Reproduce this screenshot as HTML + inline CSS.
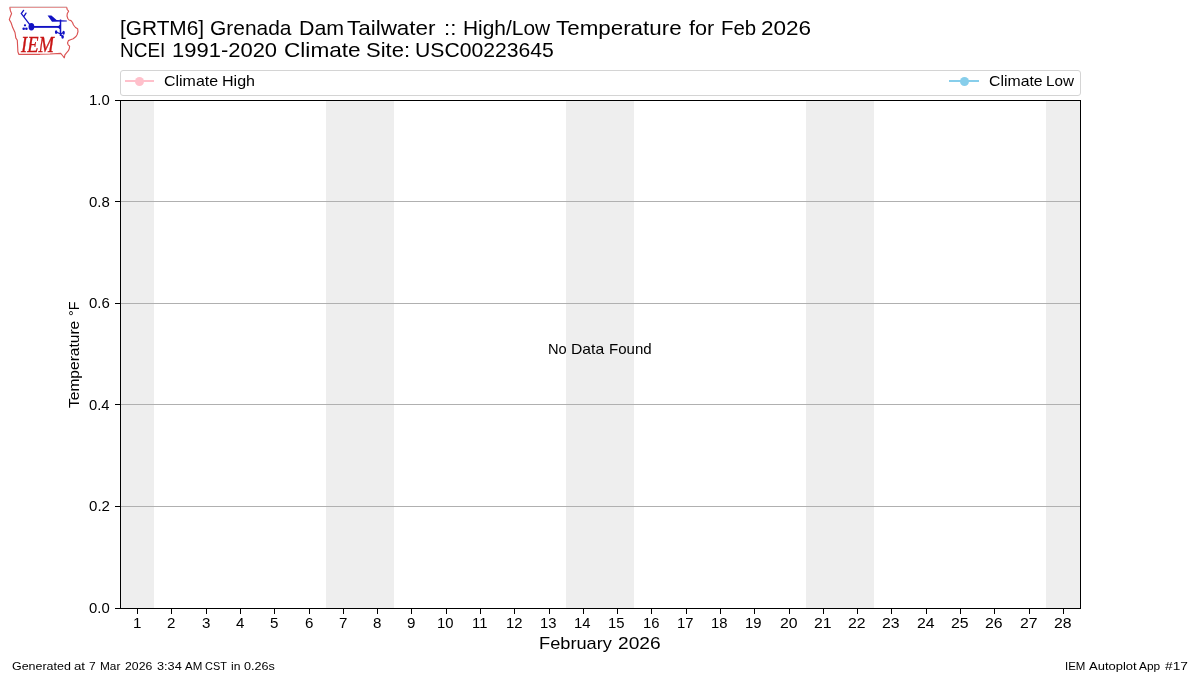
<!DOCTYPE html>
<html lang="en"><head><meta charset="utf-8"><title>IEM Autoplot App #17</title>
<style>
html,body{margin:0;padding:0;background:#fff;}
body{width:1200px;height:675px;position:relative;overflow:hidden;font-family:"Liberation Sans",sans-serif;color:#000;}
#fig{position:absolute;left:0;top:0;width:1200px;height:675px;will-change:transform;}
.a{position:absolute;}
.t{position:absolute;white-space:nowrap;line-height:1;color:#000;transform-origin:0 0;}
.band{position:absolute;top:101px;height:507px;background:#eeeeee;}
.grid{position:absolute;left:121px;width:959px;height:1px;background:#b0b0b0;}
.sp{position:absolute;background:#000;}
.xt{position:absolute;top:609px;width:1px;height:4.8px;background:#000;}
.yt{position:absolute;left:115.2px;width:4.8px;height:1px;background:#000;}
#legend{left:120px;top:70px;width:959px;height:24px;border:1px solid #d4d4d4;border-radius:3px;background:#fff;}
.lline{top:80px;height:2px;}
.ldot{top:76.65px;width:9.6px;height:9.6px;border-radius:50%;}
</style></head><body>
<div id="fig">
<div class="band" style="left:120.00px;width:34.29px"></div>
<div class="band" style="left:325.71px;width:68.57px"></div>
<div class="band" style="left:565.71px;width:68.57px"></div>
<div class="band" style="left:805.71px;width:68.57px"></div>
<div class="band" style="left:1045.71px;width:34.29px"></div>
<div class="grid" style="top:201px"></div>
<div class="grid" style="top:303px"></div>
<div class="grid" style="top:404px"></div>
<div class="grid" style="top:506px"></div>
<div class="sp" style="left:120px;top:100px;width:1px;height:509px"></div>
<div class="sp" style="left:1080px;top:100px;width:1px;height:509px"></div>
<div class="sp" style="left:120px;top:100px;width:961px;height:1px"></div>
<div class="sp" style="left:120px;top:608px;width:961px;height:1px"></div>
<div class="yt" style="top:100px"></div>
<span class="t" style="left:89.14px;top:93px;font-size:14.4px;transform:scaleX(1.0340);">1.0</span>
<div class="yt" style="top:201px"></div>
<span class="t" style="left:89.15px;top:195px;font-size:14.4px;transform:scaleX(1.0400);">0.8</span>
<div class="yt" style="top:303px"></div>
<span class="t" style="left:89.15px;top:296px;font-size:14.4px;transform:scaleX(1.0400);">0.6</span>
<div class="yt" style="top:404px"></div>
<span class="t" style="left:89.16px;top:398px;font-size:14.4px;transform:scaleX(1.0263);">0.4</span>
<div class="yt" style="top:506px"></div>
<span class="t" style="left:89.15px;top:499px;font-size:14.4px;transform:scaleX(1.0470);">0.2</span>
<div class="yt" style="top:608px"></div>
<span class="t" style="left:89.15px;top:601px;font-size:14.4px;transform:scaleX(1.0331);">0.0</span>
<div class="xt" style="left:137px"></div>
<span class="t" style="left:132.95px;top:616px;font-size:14.4px;transform:scaleX(1.0500);">1</span>
<div class="xt" style="left:171px"></div>
<span class="t" style="left:167.43px;top:616px;font-size:14.4px;transform:scaleX(1.0500);">2</span>
<div class="xt" style="left:206px"></div>
<span class="t" style="left:201.71px;top:616px;font-size:14.4px;transform:scaleX(1.0500);">3</span>
<div class="xt" style="left:240px"></div>
<span class="t" style="left:236.00px;top:616px;font-size:14.4px;transform:scaleX(1.0500);">4</span>
<div class="xt" style="left:274px"></div>
<span class="t" style="left:270.29px;top:616px;font-size:14.4px;transform:scaleX(1.0500);">5</span>
<div class="xt" style="left:309px"></div>
<span class="t" style="left:304.51px;top:616px;font-size:14.4px;transform:scaleX(1.0500);">6</span>
<div class="xt" style="left:343px"></div>
<span class="t" style="left:338.86px;top:616px;font-size:14.4px;transform:scaleX(1.0500);">7</span>
<div class="xt" style="left:377px"></div>
<span class="t" style="left:373.14px;top:616px;font-size:14.4px;transform:scaleX(1.0500);">8</span>
<div class="xt" style="left:411px"></div>
<span class="t" style="left:407.43px;top:616px;font-size:14.4px;transform:scaleX(1.0500);">9</span>
<div class="xt" style="left:446px"></div>
<span class="t" style="left:436.85px;top:616px;font-size:14.4px;transform:scaleX(1.0300);">10</span>
<div class="xt" style="left:480px"></div>
<span class="t" style="left:471.78px;top:616px;font-size:14.4px;transform:scaleX(1.0300);">11</span>
<div class="xt" style="left:514px"></div>
<span class="t" style="left:505.55px;top:616px;font-size:14.4px;transform:scaleX(1.0300);">12</span>
<div class="xt" style="left:549px"></div>
<span class="t" style="left:539.77px;top:616px;font-size:14.4px;transform:scaleX(1.0300);">13</span>
<div class="xt" style="left:583px"></div>
<span class="t" style="left:573.93px;top:616px;font-size:14.4px;transform:scaleX(1.0300);">14</span>
<div class="xt" style="left:617px"></div>
<span class="t" style="left:608.35px;top:616px;font-size:14.4px;transform:scaleX(1.0300);">15</span>
<div class="xt" style="left:651px"></div>
<span class="t" style="left:642.63px;top:616px;font-size:14.4px;transform:scaleX(1.0300);">16</span>
<div class="xt" style="left:686px"></div>
<span class="t" style="left:676.98px;top:616px;font-size:14.4px;transform:scaleX(1.0300);">17</span>
<div class="xt" style="left:720px"></div>
<span class="t" style="left:711.20px;top:616px;font-size:14.4px;transform:scaleX(1.0300);">18</span>
<div class="xt" style="left:754px"></div>
<span class="t" style="left:745.49px;top:616px;font-size:14.4px;transform:scaleX(1.0300);">19</span>
<div class="xt" style="left:789px"></div>
<span class="t" style="left:779.53px;top:616px;font-size:14.4px;transform:scaleX(1.1000);">20</span>
<div class="xt" style="left:823px"></div>
<span class="t" style="left:813.96px;top:616px;font-size:14.4px;transform:scaleX(1.1000);">21</span>
<div class="xt" style="left:857px"></div>
<span class="t" style="left:848.24px;top:616px;font-size:14.4px;transform:scaleX(1.1000);">22</span>
<div class="xt" style="left:891px"></div>
<span class="t" style="left:882.46px;top:616px;font-size:14.4px;transform:scaleX(1.1000);">23</span>
<div class="xt" style="left:926px"></div>
<span class="t" style="left:916.61px;top:616px;font-size:14.4px;transform:scaleX(1.1000);">24</span>
<div class="xt" style="left:960px"></div>
<span class="t" style="left:951.03px;top:616px;font-size:14.4px;transform:scaleX(1.1000);">25</span>
<div class="xt" style="left:994px"></div>
<span class="t" style="left:985.32px;top:616px;font-size:14.4px;transform:scaleX(1.1000);">26</span>
<div class="xt" style="left:1029px"></div>
<span class="t" style="left:1019.67px;top:616px;font-size:14.4px;transform:scaleX(1.1000);">27</span>
<div class="xt" style="left:1063px"></div>
<span class="t" style="left:1053.89px;top:616px;font-size:14.4px;transform:scaleX(1.1000);">28</span>
<div id="t1"><span class="t" style="left:119.95px;top:19px;font-size:19.8px;transform:scaleX(1.0528);">[GRTM6]</span> <span class="t" style="left:209.54px;top:19px;font-size:19.8px;transform:scaleX(1.0579);">Grenada</span> <span class="t" style="left:298.84px;top:19px;font-size:19.8px;transform:scaleX(1.0804);">Dam</span> <span class="t" style="left:347.43px;top:19px;font-size:19.8px;transform:scaleX(1.1340);">Tailwater</span> <span class="t" style="left:444.04px;top:19px;font-size:19.8px;transform:scaleX(1.1200);">::</span> <span class="t" style="left:463.28px;top:19px;font-size:19.8px;transform:scaleX(1.0560);">High/Low</span> <span class="t" style="left:556.43px;top:19px;font-size:19.8px;transform:scaleX(1.1311);">Temperature</span> <span class="t" style="left:688.73px;top:19px;font-size:19.8px;transform:scaleX(1.0933);">for</span> <span class="t" style="left:720.72px;top:19px;font-size:19.8px;transform:scaleX(1.0308);">Feb</span> <span class="t" style="left:761.26px;top:19px;font-size:19.8px;transform:scaleX(1.1395);">2026</span></div>
<div id="t2"><span class="t" style="left:120.44px;top:41px;font-size:19.8px;transform:scaleX(0.9600);">NCEI</span> <span class="t" style="left:172.33px;top:41px;font-size:19.8px;transform:scaleX(1.1107);">1991-2020</span> <span class="t" style="left:284.26px;top:41px;font-size:19.8px;transform:scaleX(1.1433);">Climate</span> <span class="t" style="left:366.03px;top:41px;font-size:19.8px;transform:scaleX(1.1119);">Site:</span> <span class="t" style="left:415.40px;top:41px;font-size:19.8px;transform:scaleX(1.0698);">USC00223645</span></div>
<div id="xlab"><span class="t" style="left:538.83px;top:635px;font-size:17.0px;transform:scaleX(1.0717);">February</span> <span class="t" style="left:617.92px;top:635px;font-size:17.0px;transform:scaleX(1.1255);">2026</span></div>
<div id="nodata"><span class="t" style="left:547.56px;top:342px;font-size:14.4px;transform:scaleX(1.0165);">No</span> <span class="t" style="left:570.57px;top:342px;font-size:14.4px;transform:scaleX(1.0906);">Data</span> <span class="t" style="left:608.72px;top:342px;font-size:14.4px;transform:scaleX(1.0452);">Found</span></div>
<div id="foot1"><span class="t" style="left:11.73px;top:660px;font-size:11.7px;transform:scaleX(1.0654);">Generated</span> <span class="t" style="left:74.14px;top:660px;font-size:11.7px;transform:scaleX(1.1288);">at</span> <span class="t" style="left:89.26px;top:660px;font-size:11.7px;transform:scaleX(1.0286);">7</span> <span class="t" style="left:99.79px;top:660px;font-size:11.7px;transform:scaleX(1.0105);">Mar</span> <span class="t" style="left:124.94px;top:660px;font-size:11.7px;transform:scaleX(1.0492);">2026</span> <span class="t" style="left:156.76px;top:660px;font-size:11.7px;transform:scaleX(1.0880);">3:34</span> <span class="t" style="left:184.90px;top:660px;font-size:11.7px;transform:scaleX(0.9865);">AM</span> <span class="t" style="left:205.32px;top:660px;font-size:11.7px;transform:scaleX(0.9333);">CST</span> <span class="t" style="left:231.42px;top:660px;font-size:11.7px;transform:scaleX(1.0361);">in</span> <span class="t" style="left:244.46px;top:660px;font-size:11.7px;transform:scaleX(1.0787);">0.26s</span></div>
<div id="foot2"><span class="t" style="left:1064.50px;top:660px;font-size:11.7px;transform:scaleX(0.9813);">IEM</span> <span class="t" style="left:1088.75px;top:660px;font-size:11.7px;transform:scaleX(1.1111);">Autoplot</span> <span class="t" style="left:1139.40px;top:660px;font-size:11.7px;transform:scaleX(1.0173);">App</span> <span class="t" style="left:1164.75px;top:660px;font-size:11.7px;transform:scaleX(1.1735);">#17</span></div>
<div class="a" id="ylab" style="left:66.90px;top:407.90px;width:0;height:0;transform-origin:0 0;transform:rotate(-90deg)"><span class="t" style="left:-0.40px;top:0;font-size:14.4px;transform:scaleX(1.0796)">Temperature</span> <span class="t" style="left:91.93px;top:0;font-size:14.4px;transform:scaleX(0.9981)">°F</span></div>
<div class="a" id="legend"></div>
<div class="a lline" style="left:125px;width:29px;background:#ffc0cb"></div><div class="a ldot" style="left:134.6px;background:#ffc0cb"></div>
<div id="lg1"><span class="t" style="left:163.67px;top:74px;font-size:14.4px;transform:scaleX(1.1082);">Climate</span> <span class="t" style="left:221.54px;top:74px;font-size:14.4px;transform:scaleX(1.1164);">High</span></div>
<div class="a lline" style="left:949px;width:30px;background:#87ceeb"></div><div class="a ldot" style="left:959.6px;background:#87ceeb"></div>
<div id="lg2"><span class="t" style="left:988.58px;top:74px;font-size:14.4px;transform:scaleX(1.0997);">Climate</span> <span class="t" style="left:1046.06px;top:74px;font-size:14.4px;transform:scaleX(1.0594);">Low</span></div>
<svg class="a" id="logo" style="left:0;top:0" width="100" height="66" viewBox="0 0 100 66">
<path d="M9.6 6.5 L66.8 6.5" fill="none" stroke="#e6dcdc" stroke-width="1"/>
<path d="M9.6 7.5 L66.9 7.5" fill="none" stroke="#e59696" stroke-width="1"/>
<path d="M66.7 7.3 L67.2 9.5 L68.6 11.2 L67.3 13.5 L67 16 L67.8 18.5 L69 20 L71 20.6 L72.5 22.5 L73.5 25 L75.5 27.5 L77.6 28.7 L78 31.5 L77.2 34.5 L76 36.5 L73.2 38.8 L70.5 39.8 L68.4 40.6 L67.5 43 L68.2 44.8 L69.6 46.2 L69.3 48.5 L68.4 50.7 L66.1 53.3 L64.9 54.8 L64.3 57.8 L62.5 55.5 L60.7 53.4 L50 54 L40 54.3 L18.8 54.3 L17.9 51.8 L17.6 46 L17.3 40.3 L15.8 37.9 L15.4 35 L15 32.5 L12.7 27.6 L11.1 22.7 L9.3 19.6 L10.4 16.4 L11.6 13.6 L10.4 10.7 L9.8 7.3" fill="none" stroke="#db5353" stroke-width="1.15" stroke-linejoin="round"/>
<g stroke="#1212c4" fill="#1212c4" stroke-linecap="round">
<path d="M31.3 26.7 L21.3 13.6 L23.6 10.4 M23.8 16.6 L26 13.1" fill="none" stroke-width="1.3"/>
<ellipse cx="31.4" cy="26.7" rx="2.85" ry="3.75" stroke="none"/>
<path d="M31.3 26.9 L60.4 26.9" fill="none" stroke-width="1.9" stroke-linecap="butt"/>
<path d="M57 26.9 L60.4 24.4 L60.4 29.4 Z" stroke="none"/>
<path d="M60.5 19.5 L60.5 36" fill="none" stroke-width="1.5" stroke-linecap="butt"/>
<path d="M47.6 15.6 L51.4 15.6 L56.6 19.9 L66.8 20.5 L66.8 21.6 L52 21.7 Z" stroke="none"/>
<circle cx="25" cy="25.3" r="1.15" stroke="none"/>
<circle cx="23.7" cy="28.8" r="1.3" stroke="none"/>
<circle cx="26.4" cy="28.8" r="1.3" stroke="none"/>
<ellipse cx="56.1" cy="32.1" rx="1.25" ry="1.9" stroke="none"/>
<ellipse cx="63.6" cy="32.7" rx="1.2" ry="2.0" stroke="none"/>
<ellipse cx="62.6" cy="36.8" rx="1.3" ry="1.9" stroke="none"/>
<path d="M56 32.1 L60.5 33.8 L63.7 32.6 M60.5 33.8 L62.5 36.8" fill="none" stroke-width="1.1"/>
</g>
</svg>
<div class="t" id="iem" style="left:20.6px;top:34px;font-family:'Liberation Serif',serif;font-style:italic;font-size:22.6px;color:#c81414;-webkit-text-stroke:0.35px #c81414;transform:scaleX(0.82)">IEM</div>

</div>
</body></html>
